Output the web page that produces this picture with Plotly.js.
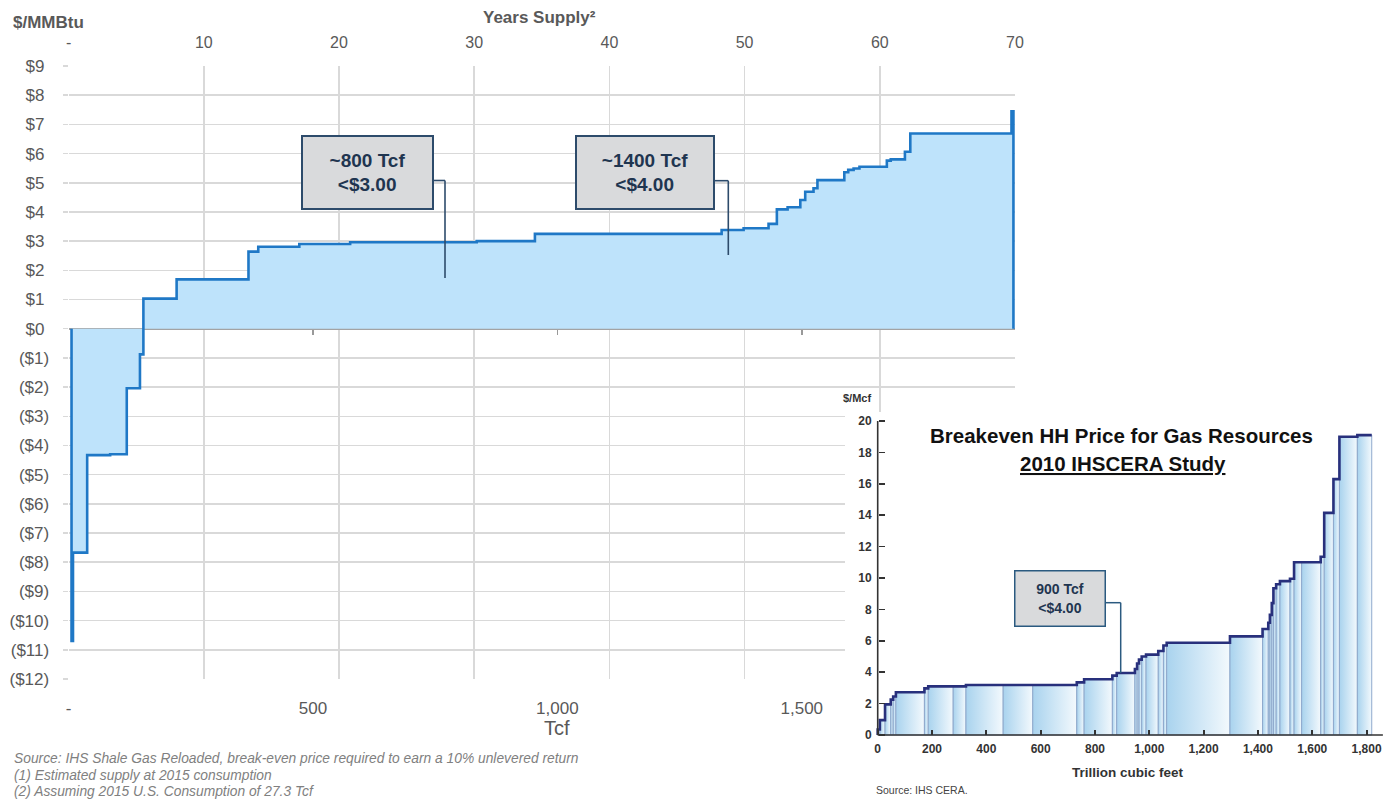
<!DOCTYPE html>
<html>
<head>
<meta charset="utf-8">
<script src="https://cdn.plot.ly/plotly-3.0.1.min.js"></script>
<style>
html,body{margin:0;padding:0;background:#fff;}
#chart{width:1397px;height:799px;}
</style>
</head>
<body>
<div id="chart"></div>
<script>
// ---------------- DATA ----------------
// Main chart: cumulative supply (Tcf) where each break-even price step begins
const supplyTcf = [6, 6, 9, 38, 85, 119, 146, 153, 221, 368, 388, 472, 576, 835, 954, 1336, 1381, 1432, 1449, 1471, 1497, 1507, 1524, 1532, 1587, 1595, 1606, 1618, 1674, 1682, 1711, 1722, 1929, 1933];
const breakevenPrice = [0, -10.7, -7.67, -4.33, -4.30, -2.04, -0.88, 1.03, 1.69, 2.64, 2.81, 2.90, 2.96, 3.00, 3.25, 3.38, 3.44, 3.59, 4.09, 4.16, 4.41, 4.69, 4.81, 5.09, 5.36, 5.44, 5.49, 5.55, 5.76, 5.80, 6.06, 6.69, 7.45, 0];

const priceTickVals = [-12, -11, -10, -9, -8, -7, -6, -5, -4, -3, -2, -1, 0, 1, 2, 3, 4, 5, 6, 7, 8, 9];
const priceTickText = ['($12)', '($11)', '($10)', '($9)', '($8)', '($7)', '($6)', '($5)', '($4)', '($3)', '($2)', '($1)', '$0', '$1', '$2', '$3', '$4', '$5', '$6', '$7', '$8', '$9'];
const tcfTickVals = [0, 500, 1000, 1500];
const tcfTickText = ['-', '500', '1,000', '1,500'];
const yearsTickVals = [0, 10, 20, 30, 40, 50, 60, 70];
const yearsTickText = ['-', '10', '20', '30', '40', '50', '60', '70'];
const yearsMax = 70;
const tcfPerYear = 27.66;

// Inset: 2010 IHSCERA study, segment start (Tcf) and breakeven price ($/Mcf)
const insetStart = [0, 8, 27, 48, 57, 67, 172, 186, 278, 325, 462, 571, 733, 760, 864, 880, 947, 955, 962, 972, 988, 1033, 1052, 1064, 1297, 1417, 1438, 1444, 1451, 1457, 1467, 1481, 1518, 1533, 1561, 1631, 1644, 1678, 1700, 1766];
const insetPrice = [0.35, 0.95, 1.95, 2.25, 2.45, 2.72, 2.97, 3.1, 3.1, 3.18, 3.18, 3.18, 3.35, 3.55, 3.78, 3.95, 4.2, 4.55, 4.8, 5.0, 5.12, 5.35, 5.7, 5.88, 6.28, 6.75, 7.15, 7.65, 8.4, 9.35, 9.6, 9.8, 9.95, 11.0, 11.0, 11.35, 14.15, 16.3, 19.0, 19.1];
const insetEnd = 1819;
const insetXTickVals = [0, 200, 400, 600, 800, 1000, 1200, 1400, 1600, 1800];
const insetXTickText = ['0', '200', '400', '600', '800', '1,000', '1,200', '1,400', '1,600', '1,800'];
const insetYTickVals = [0, 2, 4, 6, 8, 10, 12, 14, 16, 18, 20];

// ---------------- LAYOUT HELPERS ----------------
const W = 1397, H = 799;
const px = x => x / W;
const py = y => 1 - y / H;
const FONT = 'Liberation Sans, Arial, sans-serif';
const GRAY = '#595959';

// main plot area in pixels
const mL = 68.6, mR = 1015, mT = 66, mB = 679;
const tcfMax = yearsMax * tcfPerYear;

// inset geometry (pixels)
const inL = 845, inTop = 412;
const inX0 = 877.7, inXs = 0.2716;  // px of 0 Tcf, px per Tcf
const inY0 = 735, inYs = 15.7;      // px of $0, px per $
const inXRange = [(inL - inX0) / inXs, (W - inX0) / inXs];
const inYRange = [(inY0 - H) / inYs, (inY0 - inTop) / inYs];

// ---------------- TRACES ----------------
const traces = [];
traces.push({
  type: 'scatter', mode: 'lines', x: supplyTcf, y: breakevenPrice,
  line: {shape: 'hv', color: '#1f78c6', width: 2.6},
  fill: 'tozeroy', fillcolor: '#bee3fb', hoverinfo: 'skip'
});
traces.push({type: 'scatter', x: [], y: [], xaxis: 'x2', yaxis: 'y', showlegend: false});
traces.push({type: 'scatter', x: [], y: [], xaxis: 'x4', yaxis: 'y', showlegend: false});

for (let i = 0; i < insetStart.length; i++) {
  const x0 = insetStart[i];
  const x1 = i + 1 < insetStart.length ? insetStart[i + 1] : insetEnd;
  const v = insetPrice[i];
  traces.push({
    type: 'scatter', mode: 'lines', xaxis: 'x3', yaxis: 'y3',
    x: [x0, x0, x1, x1, x0], y: [0, v, v, 0, 0],
    fill: 'toself',
    fillgradient: {type: 'horizontal', colorscale: [[0, '#a9d3ee'], [1, '#f3f9fd']]},
    line: {color: '#8fa9cc', width: 1}, hoverinfo: 'skip'
  });
}
traces.push({
  type: 'scatter', mode: 'lines', xaxis: 'x3', yaxis: 'y3',
  x: [0].concat(insetStart, [insetEnd]),
  y: [0].concat(insetPrice, [insetPrice[insetPrice.length - 1]]),
  line: {shape: 'hv', color: '#28307c', width: 2.6}, hoverinfo: 'skip'
});

// ---------------- ANNOTATIONS & SHAPES ----------------
const ann = [];
function txt(text, x, y, size, opts) {
  ann.push(Object.assign({
    text: text, xref: 'paper', yref: 'paper', x: px(x), y: py(y),
    xanchor: 'center', yanchor: 'middle', showarrow: false,
    font: {family: FONT, size: size, color: GRAY}
  }, opts || {}));
}
txt('<b>$/MMBtu</b>', 48, 22, 17);
txt('<b>Years Supply²</b>', 539, 18, 17);
txt('Tcf', 557, 728, 20, {font: {family: 'Liberation Sans Narrow, Arial Narrow, Liberation Sans, Arial', size: 20, color: GRAY}});

function box(text, cx, cy, w, h, size, border, bw) {
  ann.push({
    text: text, xref: 'paper', yref: 'paper', x: px(cx), y: py(cy),
    xanchor: 'center', yanchor: 'middle', showarrow: false,
    width: w, height: h, bgcolor: '#d9dadc', bordercolor: border, borderwidth: bw, borderpad: 0,
    font: {family: FONT, size: size, color: '#1f3550'}
  });
}
box('<b>~800 Tcf<br>&lt;$3.00</b>', 367, 172.5, 129, 71, 19, '#2d4b6b', 2);
box('<b>~1400 Tcf<br>&lt;$4.00</b>', 644.5, 172.5, 136, 71, 19, '#2d4b6b', 2);
box('<b>900 Tcf<br>&lt;$4.00</b>', 1060, 598, 89, 54, 14, '#2b5a80', 1.5);

txt('<b>Breakeven HH Price for Gas Resources</b>', 1121, 436, 20.5, {font: {family: FONT, size: 20.5, color: '#111'}});
txt('<b><u>2010 IHSCERA Study</u></b>', 1123, 463, 20.5, {font: {family: FONT, size: 20.5, color: '#111'}});
txt('<b>$/Mcf</b>', 857, 398, 11, {font: {family: FONT, size: 11, color: '#333'}});
txt('<b>Trillion cubic feet</b>', 1128, 772, 13.5, {font: {family: FONT, size: 13.5, color: '#333'}});
txt('Source: IHS CERA.', 874, 790, 10.5, {xanchor: 'left', font: {family: FONT, size: 10.5, color: '#444'}});

const notes = [
  'Source: IHS Shale Gas Reloaded, break-even price required to earn a 10% unlevered return',
  '(1) Estimated supply at 2015 consumption',
  '(2) Assuming 2015 U.S. Consumption of 27.3 Tcf'
];
[758, 775, 791].forEach((y, i) => txt('<i>' + notes[i] + '</i>', 12, y, 13.8, {xanchor: 'left', font: {family: FONT, size: 13.8, color: '#808080'}}));

const shapes = [];
function seg(x0, y0, x1, y1, color, w) {
  shapes.push({type: 'line', xref: 'paper', yref: 'paper', x0: px(x0), y0: py(y0), x1: px(x1), y1: py(y1), line: {color: color, width: w}});
}
seg(433, 180.5, 445, 180.5, '#2d4b6b', 1.6);
seg(445, 180.5, 445, 278, '#2d4b6b', 1.6);
seg(714, 180.7, 728.3, 180.7, '#2d4b6b', 1.6);
seg(728.3, 180.7, 728.3, 255, '#2d4b6b', 1.6);
seg(1106, 602.7, 1120.7, 602.7, '#2b5a80', 1.5);
seg(1120.7, 602.7, 1120.7, 673, '#2b5a80', 1.5);
// inset axis lines
shapes.push({type: 'line', xref: 'x3', yref: 'y3', x0: 0, x1: 0, y0: 0, y1: 20, line: {color: '#333', width: 1.6}});
shapes.push({type: 'line', xref: 'x3', yref: 'y3', x0: 0, x1: 1860, y0: 0, y1: 0, line: {color: '#333', width: 1.6}});

// ---------------- LAYOUT ----------------
const xDom = [px(mL), px(mR)];
const yDom = [py(mB), py(mT)];
const layout = {
  width: W, height: H,
  margin: {l: 0, r: 0, t: 0, b: 0, pad: 0, autoexpand: false},
  paper_bgcolor: '#ffffff', plot_bgcolor: '#ffffff',
  showlegend: false,
  font: {family: FONT, color: GRAY},
  xaxis: {
    domain: xDom, anchor: 'y',
    range: [0, tcfMax], tickvals: tcfTickVals, ticktext: tcfTickText,
    showgrid: false, zeroline: false, showline: false, ticks: '',
    tickfont: {size: 17, color: GRAY}, ticklabelstandoff: 17
  },
  xaxis2: {
    domain: xDom, overlaying: 'x', side: 'top', anchor: 'y', range: [0, yearsMax],
    tickvals: yearsTickVals, ticktext: yearsTickText,
    showgrid: true, gridcolor: '#d9d9d9', gridwidth: 1.5, zeroline: false, showline: false, ticks: '',
    tickfont: {size: 16, color: GRAY}, ticklabelstandoff: 14
  },
  xaxis4: {
    domain: xDom, overlaying: 'x', anchor: 'free', position: py(328.7), range: [0, tcfMax],
    tickvals: [500, 1000, 1500], ticks: 'outside', ticklen: 5, tickwidth: 1.5, tickcolor: '#999',
    showticklabels: false, showgrid: false, zeroline: false, showline: false
  },
  yaxis: {
    domain: yDom, anchor: 'x',
    range: [-12, 9], tickvals: priceTickVals,
    ticktext: priceTickText.map(t => t.startsWith('(') ? t : t + '\u00a0'),
    showgrid: true, gridcolor: '#d9d9d9', gridwidth: 1.5,
    zeroline: true, zerolinecolor: '#a3a3a3', zerolinewidth: 2,
    ticks: 'outside', ticklen: 5, tickcolor: '#d9d9d9', tickwidth: 1.5,
    tickfont: {size: 17, color: GRAY}, ticklabelstandoff: 10, showline: false
  },
  xaxis3: {
    domain: [px(inL), 1], anchor: 'free', position: py(inY0), range: inXRange,
    tickvals: insetXTickVals, ticktext: insetXTickText,
    ticks: 'inside', ticklen: 5, tickwidth: 2, tickcolor: '#333',
    showgrid: false, zeroline: false, showline: false,
    tickfont: {family: FONT, size: 12, color: '#333', weight: 'bold'}, ticklabelstandoff: 5
  },
  yaxis3: {
    domain: [0, py(inTop)], anchor: 'free', position: px(inX0), range: inYRange,
    tickvals: insetYTickVals, ticks: 'inside', ticklen: 6, tickwidth: 1.6, tickcolor: '#333',
    showgrid: false, zeroline: false, showline: false,
    tickfont: {family: FONT, size: 12, color: '#333', weight: 'bold'}, ticklabelstandoff: 6
  },
  annotations: ann,
  shapes: shapes
};

Plotly.newPlot('chart', traces, layout, {staticPlot: true, displayModeBar: false});
</script>
</body>
</html>
